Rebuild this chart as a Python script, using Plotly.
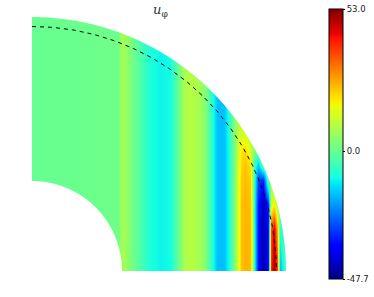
import numpy as np
import plotly.graph_objects as go

OUTER_RADIUS = 254.0
INNER_RADIUS = 90.0
BOUNDARY_RADIUS = 244.5
TITLE = "<i>u</i><sub>φ</sub>"
tick_values = [-47.7, 0.0, 53.0]
tick_labels = ["-47.7", "0.0", "53.0"]

# cylindrical radius stations
s_inner = [0, 86, 89, 93, 98, 106, 118, 128, 138, 146, 152, 158, 166, 173, 180, 185, 192]
s_outer = [197, 201, 206, 209, 213, 218, 220, 222, 226, 231, 236, 239, 242, 245, 248, 252, 258]
# axial stations
z_rows = [0, 41, 66, 91, 106, 121, 141, 171, 254]

u_inner = [0, 1, 7, 7, 3, -2, -9, -11, -10, 0, 8, 10, 8, 4, -8, -16, -16]

u_outer_0 = [-9, 0, 14, 23, 25, 24, 12, -8, -34, -44, -36, 40, 51, 38, -17, -8, 0]
u_outer_41 = [-9, 0, 14, 23, 25, 24, 12, -8, -34, -44, -36, 36, 46, 26, -8, -1, 0]
u_outer_66 = [-9, 0, 14, 23, 25, 23, 12, -8, -33, -43, -32, 14, 18, 8, 2, 0, 0]
u_outer_91 = [-9, 0, 14, 22, 24, 22, 10, -6, -28, -32, 0, 4, 3, 0, 0, 0, 0]
u_outer_106 = [-9, 0, 13, 21, 23, 20, 8, -5, -16, 2, 3, 0, 0, 0, 0, 0, 0]
u_outer_121 = [-9, 0, 12, 19, 21, 14, 8, 4, 2, 0, 0, 0, 0, 0, 0, 0, 0]
u_outer_141 = [-8, 2, 11, 12, 11, 8, 4, 2, 0, 0, 0, 0, 0, 0, 0, 0, 0]
u_outer_171 = [-7, 0, 4, 4, 4, 2, 1, 0, 0, 0, 0, 0, 0, 0, 0, 0, 0]
u_outer_254 = [-7, 0, 4, 4, 4, 2, 1, 0, 0, 0, 0, 0, 0, 0, 0, 0, 0]

u_rows = [u_outer_0, u_outer_41, u_outer_66, u_outer_91, u_outer_106,
          u_outer_121, u_outer_141, u_outer_171, u_outer_254]
z_matrix = [u_inner + row for row in u_rows]

jet = [
    [0.0, "rgb(0,0,127)"], [0.11, "rgb(0,0,255)"], [0.125, "rgb(0,0,255)"],
    [0.34, "rgb(0,219,255)"], [0.35, "rgb(0,230,247)"], [0.375, "rgb(21,255,226)"],
    [0.64, "rgb(238,255,8)"], [0.65, "rgb(247,246,0)"], [0.66, "rgb(255,236,0)"],
    [0.89, "rgb(255,19,0)"], [0.91, "rgb(232,0,0)"], [1.0, "rgb(127,0,0)"],
]

fig = go.Figure()
fig.add_trace(go.Heatmap(
    x=s_inner + s_outer, y=z_rows, z=z_matrix, zmin=-47.7, zmax=53.0,
    colorscale=jet, zsmooth="best", hoverinfo="skip",
    colorbar=dict(
        thickness=14, thicknessmode="pixels", len=270, lenmode="pixels",
        x=(329 - 32) / 256, xanchor="left", y=(271 - 144) / 256, yanchor="middle",
        xpad=0, ypad=0, outlinecolor="black", outlinewidth=1,
        tickvals=tick_values, ticktext=tick_labels, ticks="outside", ticklen=2,
        tickcolor="black", tickfont=dict(family="DejaVu Sans", size=8.5, color="#222"),
    ),
))

theta = np.linspace(np.pi / 2, 0, 181)
fig.add_trace(go.Scatter(
    x=BOUNDARY_RADIUS * np.cos(theta), y=BOUNDARY_RADIUS * np.sin(theta),
    mode="lines", line=dict(color="black", width=1, dash="4px 4px"),
    hoverinfo="skip", showlegend=False,
))

# white masks turning the rectangle of data into a spherical-shell quadrant
def poly(xs, ys):
    return "M " + " L ".join(f"{a:.2f},{b:.2f}" for a, b in zip(xs, ys)) + " Z"

ox = OUTER_RADIUS * np.cos(theta)
oy = OUTER_RADIUS * np.sin(theta)
ix = INNER_RADIUS * np.cos(theta)
iy = INNER_RADIUS * np.sin(theta)
white = dict(type="path", fillcolor="white", line=dict(width=0), layer="above",
             xref="x", yref="y")
shapes = [
    dict(path=poly(list(ox) + [400, 400, 0], list(oy) + [0, 400, 400]), **white),
    dict(path=poly(list(ix) + [0], list(iy) + [0]), **white),
]

fig.update_layout(
    width=374, height=297, autosize=False,
    margin=dict(l=32, r=86, t=15, b=26, autoexpand=False),
    paper_bgcolor="white", plot_bgcolor="white",
    shapes=shapes, showlegend=False,
    xaxis=dict(range=[0, 256], visible=False, fixedrange=True),
    yaxis=dict(range=[0, 256], visible=False, fixedrange=True),
    annotations=[dict(
        text=TITLE, x=(160 - 32) / 256, y=(271 - 10) / 256, xref="paper", yref="paper",
        showarrow=False, xanchor="center", yanchor="middle",
        font=dict(family="DejaVu Serif", size=13, color="#333"),
    )],
)
fig.write_html("out.html", config=dict(displayModeBar=False),
               post_script="document.body.style.margin='0';document.documentElement.style.overflow='hidden';")
